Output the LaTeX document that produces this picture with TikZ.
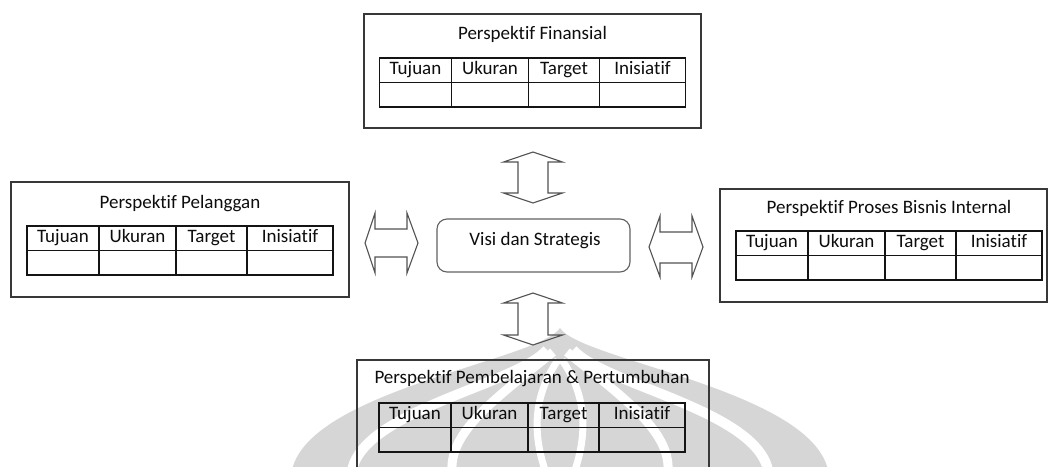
\documentclass[tikz,border=0pt]{standalone}
\usepackage{fontspec}
\setmainfont{Carlito}[Ligatures={NoCommon}]
\begin{document}
\begin{tikzpicture}[x=1pt,y=-1pt,
  txt/.style={font=\fontsize{19}{21}\selectfont, text=black!95},
  panel/.style={draw=black!78, line width=1.2pt, inner sep=0pt, outer sep=0pt},
  ttl/.style={txt, anchor=base, inner sep=0pt},
  cell/.style={draw=black!92, line width=1.1pt, minimum height=24.5pt,
    inner sep=0pt, outer sep=0pt, anchor=north west, txt,
    text height=13pt, text depth=4pt},
  hollow/.style={draw=black!68, line width=1.1pt, line join=miter},
  core/.style={draw=black!62, line width=1.1pt, rounded corners=10pt,
    inner sep=0pt, outer sep=0pt, minimum width=193pt, minimum height=53pt},
  wm/.style={fill=black!16},
  wmgap/.style={draw=white, line cap=butt},
  ptable/.pic={
    \node[cell, minimum width=72pt] (-c1) at (0,0) {Tujuan};
    \node[cell, minimum width=77pt] (-c2) at (-c1.north east) {Ukuran};
    \node[cell, minimum width=71pt] (-c3) at (-c2.north east) {Target};
    \node[cell, minimum width=86pt] (-c4) at (-c3.north east) {Inisiatif};
    \node[cell, minimum width=72pt] (-d1) at (-c1.south west) {};
    \node[cell, minimum width=77pt] (-d2) at (-c2.south west) {};
    \node[cell, minimum width=71pt] (-d3) at (-c3.south west) {};
    \node[cell, minimum width=86pt] (-d4) at (-c4.south west) {};
  }
]
\clip (0,0) rectangle (1048,466);
\fill[white] (0,0) rectangle (1048,466);

% faint emblem in the background
\fill[wm] (560,328) .. controls (540,360) and (310,390) .. (292,470)
  -- (828,470) .. controls (810,390) and (580,360) .. cycle;
\draw[wmgap, line width=10pt] (547,350) .. controls (515,385) and (365,410) .. (352,470);
\draw[wmgap, line width=10pt] (573,350) .. controls (605,385) and (755,410) .. (768,470);
\draw[wmgap, line width=9pt] (553,352) .. controls (500,395) and (450,430) .. (452,470);
\draw[wmgap, line width=9pt] (567,352) .. controls (620,395) and (670,430) .. (668,470);
\draw[wmgap, line width=7pt] (558,360) .. controls (530,400) and (535,440) .. (545,470);
\draw[wmgap, line width=7pt] (562,360) .. controls (590,400) and (585,440) .. (575,470);

% perspective panels
\node[panel, minimum width=337pt, minimum height=114pt] (fin) at (532.5,71) {};
\node[ttl] (fin-title) at (532.5,39) {Perspektif Finansial};
\pic (fint) at (379.5,58) {ptable};

\node[panel, minimum width=338pt, minimum height=115pt] (cust) at (180,239.5) {};
\node[ttl] (cust-title) at (180,208) {Perspektif Pelanggan};
\pic (custt) at (27,226) {ptable};

\node[panel, minimum width=327pt, minimum height=113pt] (proc) at (883.5,245.5) {};
\node[ttl] (proc-title) at (889,213) {Perspektif Proses Bisnis Internal};
\pic (proct) at (736,231) {ptable};

\node[panel, minimum width=352pt, minimum height=130pt] (learn) at (533,425) {};
\node[ttl] (learn-title) at (532,383) {Perspektif Pembelajaran \& Pertumbuhan};
\pic (learnt) at (379,403) {ptable};

% centre
\node[core] (vision) at (533.5,245.5) {};
\node[ttl] (vision-text) at (535,245) {Visi dan Strategis};

% two-way block arrows
\draw[hollow] (533,152) -- (562.5,162) -- (548,162) -- (548,193) -- (562.5,193)
  -- (533,203) -- (503.5,193) -- (518,193) -- (518,162) -- (503.5,162) -- cycle;
\draw[hollow] (533,293) -- (562.5,303) -- (548,303) -- (548,335) -- (562.5,335)
  -- (533,345) -- (503.5,335) -- (518,335) -- (518,303) -- (503.5,303) -- cycle;
\draw[hollow] (365,243) -- (375,213) -- (375,229) -- (407,229) -- (407,213)
  -- (418,243) -- (407,273) -- (407,257) -- (375,257) -- (375,273) -- cycle;
\draw[hollow] (649,247) -- (660,216) -- (660,232) -- (692,232) -- (692,216)
  -- (703,247) -- (692,277) -- (692,263) -- (660,263) -- (660,277) -- cycle;
\end{tikzpicture}
\end{document}
